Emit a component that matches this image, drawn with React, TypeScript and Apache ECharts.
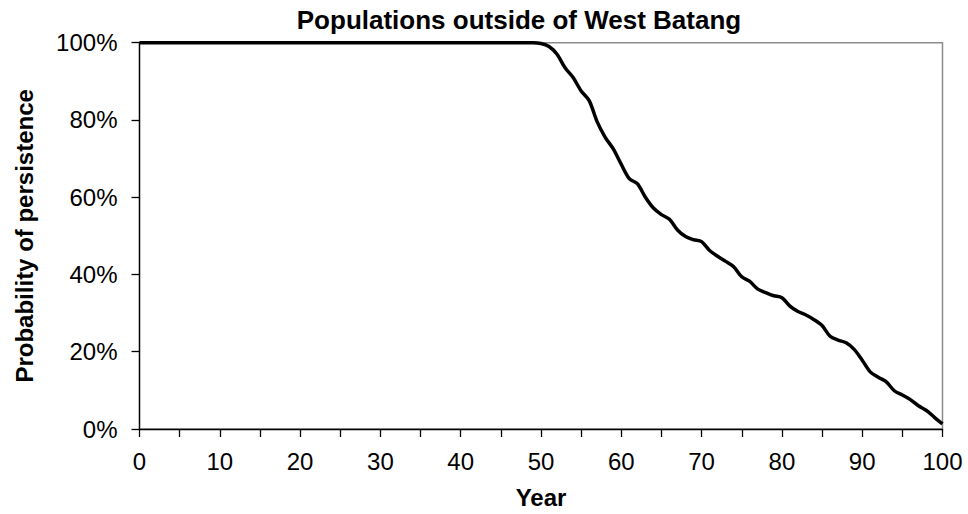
import React, { useEffect, useRef } from "react";
import * as echarts from "echarts";

// Simulation years 0..100
const years: number[] = Array.from({ length: 101 }, (_, i) => i);

// Probability of persistence (%) for each year; 100% through year 49
const persistence: number[] = [
  100, 100, 100, 100, 100, 100, 100, 100, 100, 100,
  100, 100, 100, 100, 100, 100, 100, 100, 100, 100,
  100, 100, 100, 100, 100, 100, 100, 100, 100, 100,
  100, 100, 100, 100, 100, 100, 100, 100, 100, 100,
  100, 100, 100, 100, 100, 100, 100, 100, 100, 100,
  99.8, 99.0, 97.0, 93.5, 91.0, 87.5, 85.0, 79.5, 75.5, 72.5,
  68.5, 64.8, 63.5, 60.0, 57.2, 55.5, 54.3, 51.5, 49.8, 49.0,
  48.5, 46.2, 44.7, 43.4, 42.0, 39.4, 38.2, 36.2, 35.3, 34.5,
  34.0, 31.8, 30.4, 29.5, 28.3, 26.8, 24.0, 23.0, 22.3, 20.6,
  17.8, 14.8, 13.4, 12.2, 9.9, 8.8, 7.6, 6.0, 4.8, 3.0,
  1.3,
];

const yTicks: number[] = [0, 20, 40, 60, 80, 100];

const FONT = "'Liberation Sans', Arial, sans-serif";

export default function App() {
  const ref = useRef<HTMLDivElement>(null);

  useEffect(() => {
    if (!ref.current) return;
    document.body.style.margin = "0";
    const chart = echarts.init(ref.current, undefined, { renderer: "svg" });
    chart.setOption({
      animation: false,
      backgroundColor: "#ffffff",
      title: {
        text: "Populations outside of West Batang",
        left: 514,
        top: 2,
        textAlign: "center",
        textStyle: { fontFamily: FONT, fontWeight: "bold", fontSize: 26, color: "#000" },
      },
      grid: {
        left: 139.5,
        right: 25.5,
        top: 42.7,
        bottom: 82.3,
        show: true,
        borderColor: "#8c8c8c",
        borderWidth: 1.5,
        backgroundColor: "#ffffff",
      },
      xAxis: {
        type: "value",
        min: 0,
        max: 100,
        interval: 5,
        name: "Year",
        nameLocation: "middle",
        nameGap: 56,
        nameTextStyle: { fontFamily: FONT, fontWeight: "bold", fontSize: 24, color: "#000" },
        axisLine: { show: true, lineStyle: { color: "#000", width: 1.3 } },
        axisTick: { show: true, inside: false, length: 8, lineStyle: { color: "#000", width: 1.3 } },
        axisLabel: {
          fontFamily: FONT,
          fontSize: 24,
          color: "#000",
          margin: 20,
          formatter: (v: number) => (v % 10 === 0 ? String(v) : ""),
        },
        splitLine: { show: false },
      },
      yAxis: {
        type: "value",
        min: yTicks[0],
        max: yTicks[yTicks.length - 1],
        interval: 20,
        name: "Probability of persistence",
        nameLocation: "middle",
        nameGap: 103,
        nameRotate: 90,
        nameTextStyle: { fontFamily: FONT, fontWeight: "bold", fontSize: 24, color: "#000" },
        axisLine: { show: true, lineStyle: { color: "#000", width: 1.3 } },
        axisTick: { show: true, inside: false, length: 8, lineStyle: { color: "#000", width: 1.3 } },
        axisLabel: {
          fontFamily: FONT,
          fontSize: 24,
          color: "#000",
          margin: 22,
          formatter: (v: number) => `${v}%`,
        },
        splitLine: { show: false },
      },
      series: [
        {
          type: "line",
          data: years.map((y, i) => [y, persistence[i]]),
          showSymbol: false,
          smooth: 0.3,
          lineStyle: { color: "#000", width: 3.5 },
          clip: false,
        },
      ],
    });
    return () => chart.dispose();
  }, []);

  return <div ref={ref} style={{ width: 968, height: 514 }} />;
}
